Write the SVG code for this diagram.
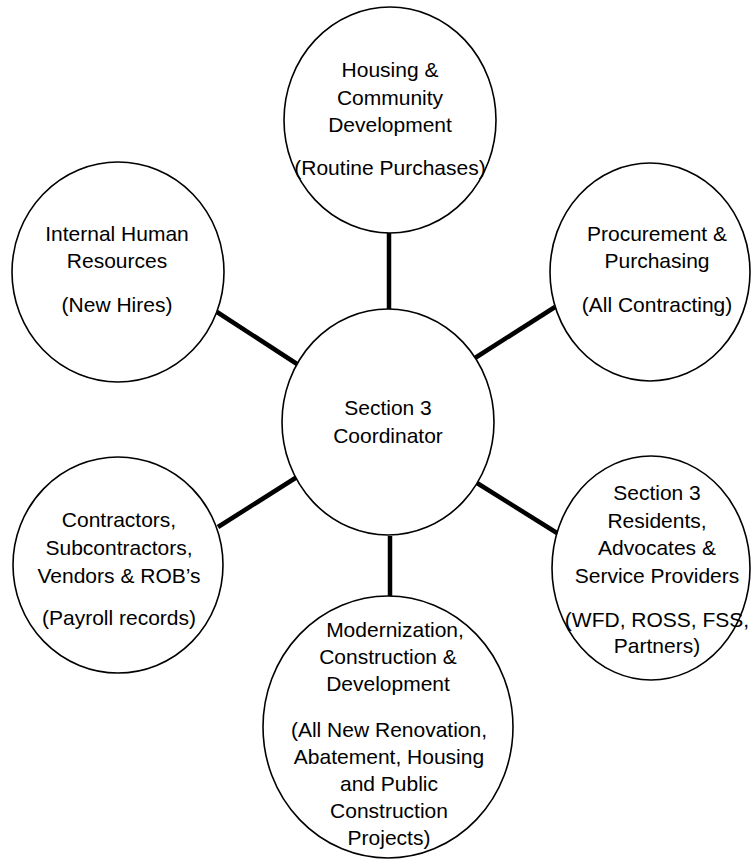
<svg xmlns="http://www.w3.org/2000/svg" width="751" height="859" viewBox="0 0 751 859">
<style>
.n{fill:#fff;stroke:#000;stroke-width:1.6}
.c{stroke:#000;stroke-width:4.5;fill:none}
text{font-family:"Liberation Sans",Arial,sans-serif;font-size:21px;fill:#000;text-anchor:middle}
</style>
<rect width="751" height="859" fill="#fff"/>
<g id="connectors">
<line class="c" x1="389" y1="233" x2="389" y2="310"/>
<line class="c" x1="217" y1="312" x2="297" y2="364"/>
<line class="c" x1="475" y1="358" x2="555" y2="307"/>
<line class="c" x1="218" y1="527" x2="297" y2="477"/>
<line class="c" x1="477" y1="483" x2="557" y2="533"/>
<line class="c" x1="390" y1="536" x2="390" y2="597"/>
</g>
<g id="housing">
<ellipse class="n" cx="390" cy="120" rx="106" ry="113"/>
<text x="390" y="77">Housing &amp;</text>
<text x="390" y="105">Community</text>
<text x="390" y="132">Development</text>
<text x="390" y="175">(Routine Purchases)</text>
</g>
<g id="hr">
<ellipse class="n" cx="118" cy="272" rx="106" ry="110"/>
<text x="117" y="241">Internal Human</text>
<text x="117" y="268">Resources</text>
<text x="117" y="312">(New Hires)</text>
</g>
<g id="procurement">
<ellipse class="n" cx="650" cy="272" rx="100" ry="109"/>
<text x="657" y="241">Procurement &amp;</text>
<text x="657" y="268">Purchasing</text>
<text x="657" y="312">(All Contracting)</text>
</g>
<g id="coordinator">
<ellipse class="n" cx="388" cy="422" rx="106" ry="113"/>
<text x="388" y="415">Section 3</text>
<text x="388" y="443">Coordinator</text>
</g>
<g id="contractors">
<ellipse class="n" cx="118" cy="565" rx="105" ry="108"/>
<text x="119" y="527">Contractors,</text>
<text x="119" y="555">Subcontractors,</text>
<text x="119" y="583">Vendors &amp; ROB’s</text>
<text x="119" y="625">(Payroll records)</text>
</g>
<g id="residents">
<ellipse class="n" cx="651" cy="568" rx="99" ry="112"/>
<text x="657" y="500">Section 3</text>
<text x="657" y="528">Residents,</text>
<text x="657" y="555">Advocates &amp;</text>
<text x="657" y="583">Service Providers</text>
<text x="657" y="627">(WFD, ROSS, FSS,</text>
<text x="657" y="653">Partners)</text>
</g>
<g id="modernization">
<ellipse class="n" cx="388" cy="727" rx="125" ry="131"/>
<text x="395" y="637">Modernization,</text>
<text x="388" y="664">Construction &amp;</text>
<text x="388" y="691">Development</text>
<text x="389" y="737">(All New Renovation,</text>
<text x="389" y="764">Abatement, Housing</text>
<text x="389" y="791">and Public</text>
<text x="389" y="818">Construction</text>
<text x="389" y="845">Projects)</text>
</g>
</svg>
